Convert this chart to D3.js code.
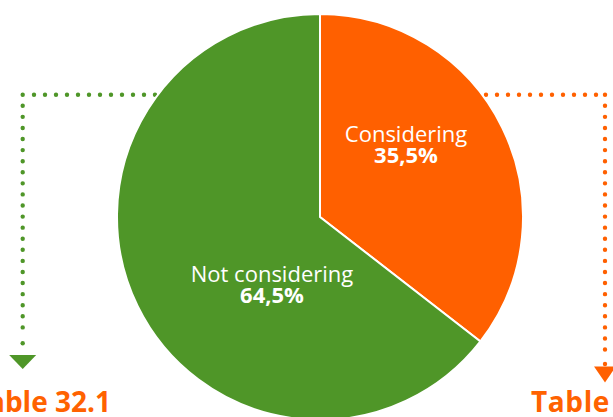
<!DOCTYPE html>
<html><head><meta charset="utf-8">
<script src="https://cdn.jsdelivr.net/npm/d3@7"></script>
<style>
html,body{margin:0;padding:0;background:#fff;overflow:hidden}
svg{display:block}
</style></head>
<body>
<svg id="chart" width="613" height="417"></svg>
<script>
const categories = ["Considering", "Not considering"];
const values = [35.5, 64.5];
const valueLabels = ["35,5%", "64,5%"];
const colors = ["#FF6000", "#4F9628"];
const tableLabels = ["Table 32.2", "Table 32.1"];

const W = 613, H = 417;
const cx = 320, cy = 217, R = 203;
const svg = d3.select("#chart");
const font = "'Open Sans', sans-serif";

// dotted connectors (drawn behind pie)
const conn = [
  {color: colors[1], x0: 155, x1: 22.7, y: 94.7, yEnd: 343.3, triTop: 355, triBot: 369, triHalf: 13.5, label: tableLabels[1], anchor: "end", tx: 111, ls: 0},
  {color: colors[0], x0: 486, x1: 605, y: 94.7, yEnd: 364, triTop: 366.5, triBot: 382.5, triHalf: 11, label: tableLabels[0], anchor: "start", tx: 531, ls: 0.6}
];
conn.forEach(c => {
  const g = svg.append("g");
  const sgn = c.x1 > c.x0 ? 1 : -1;
  g.append("line").attr("x1", c.x0).attr("x2", c.x1 - sgn*7).attr("y1", c.y).attr("y2", c.y)
    .attr("stroke", c.color).attr("stroke-width", 4.4).attr("stroke-linecap", "round").attr("stroke-dasharray", "0 11");
  g.append("line").attr("x1", c.x1).attr("x2", c.x1).attr("y1", c.y).attr("y2", c.yEnd - 12)
    .attr("stroke", c.color).attr("stroke-width", 4.4).attr("stroke-linecap", "round").attr("stroke-dasharray", "0 11.08");
  g.append("circle").attr("cx", c.x1).attr("cy", c.yEnd).attr("r", 2.2).attr("fill", c.color);
  g.append("path").attr("d", `M${c.x1 - c.triHalf},${c.triTop}L${c.x1 + c.triHalf},${c.triTop}L${c.x1},${c.triBot}Z`).attr("fill", c.color);
  svg.append("text").attr("x", c.tx).attr("y", 411.5).attr("text-anchor", c.anchor)
    .attr("font-family", font).attr("font-weight", 700).attr("font-size", 28).attr("letter-spacing", c.ls)
    .attr("fill", "#FF6200").text(c.label);
});

const pie = d3.pie().sort(null).value(d => d)(values);
const arc = d3.arc().innerRadius(0).outerRadius(R);
const pg = svg.append("g").attr("transform", `translate(${cx},${cy})`);
pg.selectAll("path").data(pie).join("path")
  .attr("d", arc).attr("fill", (d, i) => colors[i])
  .attr("stroke", "#fff").attr("stroke-width", 2);

const labelPos = [[86, -75.5], [-48, 64.5]];
pie.forEach((d, i) => {
  const t = pg.append("text").attr("text-anchor", "middle").attr("fill", "#fff").attr("font-family", font)
    .attr("transform", `translate(${labelPos[i][0]},${labelPos[i][1]})`);
  t.append("tspan").attr("x", 0).attr("y", 0).attr("font-size", 22).attr("font-weight", 400).text(categories[i]);
  t.append("tspan").attr("x", 0).attr("y", 21.3).attr("font-size", 22).attr("font-weight", 700).text(valueLabels[i]);
});
</script>
</body></html>
